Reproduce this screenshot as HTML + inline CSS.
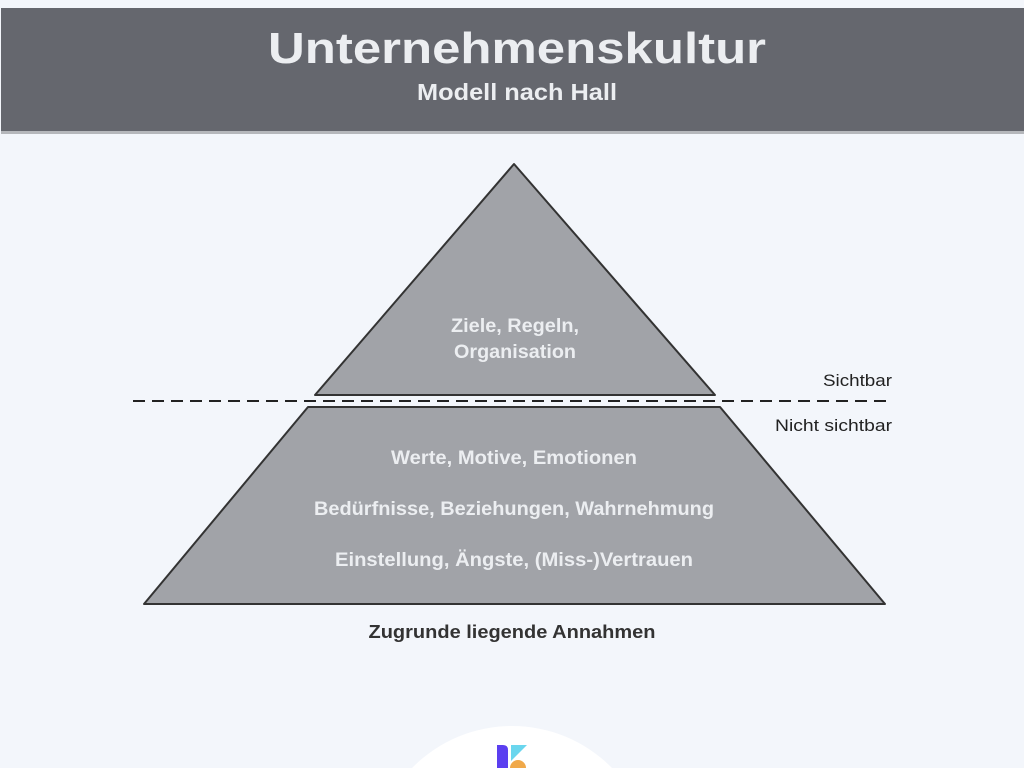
<!DOCTYPE html>
<html><head><meta charset="utf-8"><style>
html,body{margin:0;padding:0;width:1024px;height:768px;overflow:hidden;background:#f3f6fb;font-family:"Liberation Sans",sans-serif}
svg{display:block;overflow:hidden}
</style></head><body>
<svg width="1024" height="768" viewBox="0 0 1024 768" xmlns="http://www.w3.org/2000/svg" style="position:absolute;left:0;top:0">
<defs><clipPath id="c"><rect x="0" y="0" width="1024" height="768"/></clipPath></defs>
<rect x="1" y="8" width="1023" height="123" fill="#65676e"/>
<rect x="1" y="131" width="1023" height="3" fill="#b5b7bb"/>
<text x="517" y="63" text-anchor="middle" font-size="44" font-weight="bold" fill="#eceef1" textLength="498" lengthAdjust="spacingAndGlyphs">Unternehmenskultur</text>
<text x="517" y="100" text-anchor="middle" font-size="23" font-weight="bold" fill="#eceef1" textLength="200" lengthAdjust="spacingAndGlyphs">Modell nach Hall</text>
<polygon points="514,164 315,395 715,395" fill="#a1a3a8" stroke="#333" stroke-width="2" stroke-linejoin="round"/>
<polygon points="308,407 720,407 885,604 144,604" fill="#a1a3a8" stroke="#333" stroke-width="2" stroke-linejoin="round"/>
<line x1="133" y1="401" x2="892" y2="401" stroke="#222" stroke-width="2" stroke-dasharray="12,7"/>
<g font-weight="bold" font-size="19" fill="#eceef1" text-anchor="middle" lengthAdjust="spacingAndGlyphs">
<text x="515" y="332" textLength="128" lengthAdjust="spacingAndGlyphs">Ziele, Regeln,</text>
<text x="515" y="358" textLength="122" lengthAdjust="spacingAndGlyphs">Organisation</text>
<text x="514" y="464" textLength="246" lengthAdjust="spacingAndGlyphs">Werte, Motive, Emotionen</text>
<text x="514" y="515" textLength="400" lengthAdjust="spacingAndGlyphs">Bedürfnisse, Beziehungen, Wahrnehmung</text>
<text x="514" y="566" textLength="358" lengthAdjust="spacingAndGlyphs">Einstellung, Ängste, (Miss-)Vertrauen</text>
</g>
<text x="823" y="386" font-size="17" fill="#222" textLength="69" lengthAdjust="spacingAndGlyphs">Sichtbar</text>
<text x="775" y="431" font-size="17" fill="#222" textLength="117" lengthAdjust="spacingAndGlyphs">Nicht sichtbar</text>
<text x="512" y="638" text-anchor="middle" font-size="18" font-weight="bold" fill="#333" textLength="287" lengthAdjust="spacingAndGlyphs">Zugrunde liegende Annahmen</text>
<g clip-path="url(#c)">
<circle cx="512" cy="866" r="140" fill="#ffffff"/>
<path d="M497 745 h6 q5 0 5 5 v18 h-11 z" fill="#5b3ff0"/>
<polygon points="511,745 527,745 511,761" fill="#6ad6ee"/>
<path d="M510 768 a8 8 0 0 1 16 0 z" fill="#f0a94a"/>
</g>
</svg>
</body></html>
